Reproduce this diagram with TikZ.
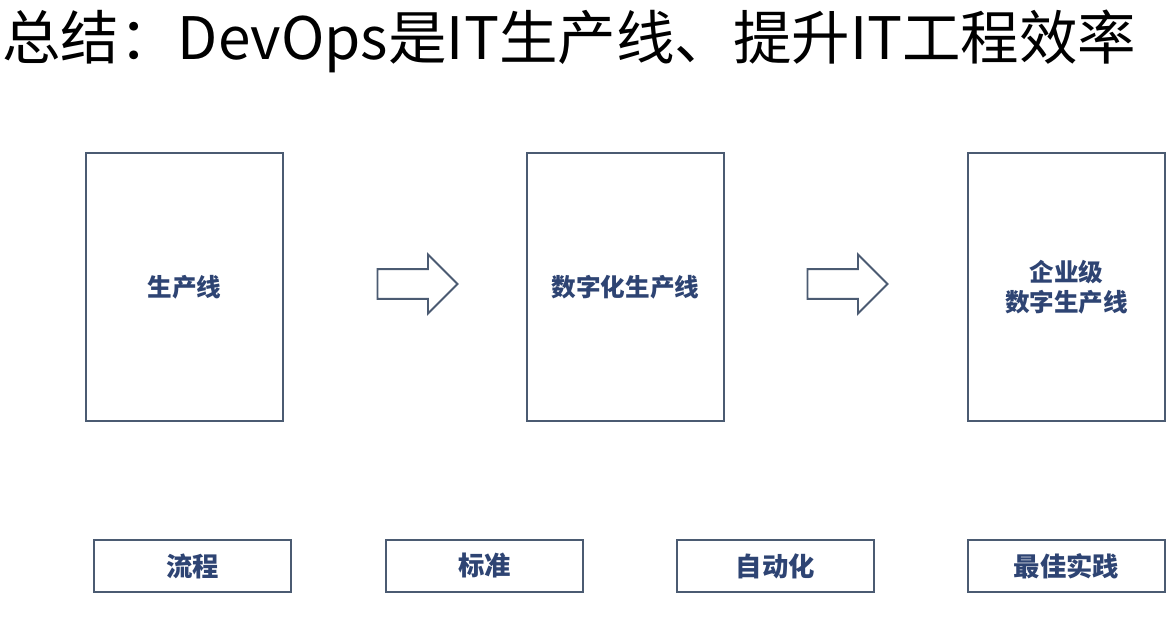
\documentclass[tikz,border=0pt]{standalone}
\usepackage{fontspec}
\setmainfont{Noto Sans CJK SC}
\usetikzlibrary{positioning,shapes.arrows}
\definecolor{frameblue}{HTML}{4B5B72}
\definecolor{textblue}{HTML}{2E4473}

\begin{document}
\begin{tikzpicture}[x=0.02cm,y=-0.02cm,font=\fontsize{14}{17}\selectfont\bfseries]
  \tikzset{
    bigbox/.style={draw=frameblue,line width=1.1pt,minimum width=3.94cm,minimum height=5.36cm,
      align=center,text=textblue,inner sep=0pt},
    tagbox/.style={draw=frameblue,line width=1.1pt,minimum width=3.94cm,minimum height=1.04cm,
      text=textblue,inner sep=0pt,font=\fontsize{15}{18}\selectfont\bfseries},
    blockarrow/.style={single arrow,draw=frameblue,line width=1.1pt,minimum height=1.6cm,
      minimum width=1.14cm,inner sep=0.28cm,single arrow head extend=0.29cm}
  }
  \useasboundingbox[fill=white] (0,0) rectangle (1176,631);
  % title
  \node[anchor=west,inner sep=0pt,font=\fontsize{33.3}{40}\selectfont] (title) at (2,41)
    {总结：DevOps是IT生产线、提升IT工程效率};
  % three stages
  \node[bigbox] (line) at (184.5,287) {生产线};
  \node[bigbox] (digital) at (625.5,287) {数字化生产线};
  \node[bigbox] (enterprise) at (1066.5,287) {企业级\\数字生产线};
  \node[blockarrow] (arrowa) at (410,284) {};
  \node[blockarrow] (arrowb) at (840,284) {};
  % bottom tags
  \node[tagbox] (flow) at (192.5,566) {流程};
  \node[tagbox] (standard) at (484.5,566) {标准};
  \node[tagbox] (auto) at (775.5,566) {自动化};
  \node[tagbox] (practice) at (1066.5,566) {最佳实践};
\end{tikzpicture}
\end{document}
